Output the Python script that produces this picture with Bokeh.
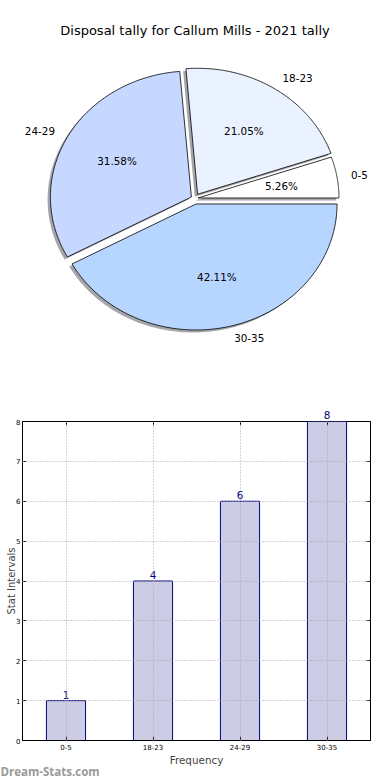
import numpy as np
from bokeh.plotting import figure
from bokeh.layouts import column
from bokeh.models import (ColumnDataSource, Range1d, FactorRange, LinearAxis, CategoricalAxis,
                          FixedTicker, LabelSet, Title)
from bokeh.core.properties import value
from bokeh.embed import file_html
from bokeh.resources import INLINE

# ---------------- data ----------------
title_text = "Disposal tally for Callum Mills - 2021 tally"
categories = ["0-5", "18-23", "24-29", "30-35"]
counts = [1, 4, 6, 8]
slice_colors = ["#FFFFFF", "#EAF1FF", "#C6D8FF", "#B6D6FF"]
y_ticks = [0, 1, 2, 3, 4, 5, 6, 7, 8]
x_label = "Frequency"
y_label = "Stat Intervals"
watermark = "Dream-Stats.com"

# ---------------- layout / style ----------------
W = 390
PIE_H = 390
BAR_H = 390
FONT = "DejaVu Sans"
B_LEFT, B_RIGHT, B_TOP, B_BOTTOM = 22, 20, 31, 40

cx, cy, rx, ry = 194.0, 198.0, 141.0, 126.0
explode = [0.025, 0.04, 0.025, 0.045]
shadow_dx, shadow_dy = -2.8, 2.5

# ---------------- pie ----------------
total = float(sum(counts))
fracs = np.array(counts, dtype=float) / total
bounds = np.concatenate([[0.0], np.cumsum(fracs)]) * 2 * np.pi

# the column aligns this frame with the bar chart's frame, so use page pixels over that span
pie = figure(width=W, height=PIE_H, x_range=Range1d(B_LEFT, W - B_RIGHT),
             y_range=Range1d(PIE_H, 0),
             x_axis_location=None, y_axis_location=None,
             output_backend="svg", toolbar_location=None, min_border=0,
             min_border_left=B_LEFT, min_border_right=B_RIGHT)
pie.grid.visible = False
pie.outline_line_color = None
pie.background_fill_color = "white"

pxs, pys, sxs, sys_ = [], [], [], []
pct_x, pct_y, pct_t = [], [], []
lab_x, lab_y, lab_t, lab_align = [], [], [], []
for i, cat in enumerate(categories):
    t1, t2 = bounds[i], bounds[i + 1]
    mid = 0.5 * (t1 + t2)
    ax = cx + explode[i] * rx * np.cos(mid)
    ay = cy - explode[i] * ry * np.sin(mid)
    t = np.linspace(t1, t2, 120)
    px = np.concatenate([[ax], ax + rx * np.cos(t)])
    py = np.concatenate([[ay], ay - ry * np.sin(t)])
    pxs.append(list(px)); pys.append(list(py))
    sxs.append(list(px + shadow_dx)); sys_.append(list(py + shadow_dy))
    pct_x.append(ax + 0.6 * rx * np.cos(mid))
    pct_y.append(ay - 0.6 * ry * np.sin(mid))
    pct_t.append("%.2f%%" % (fracs[i] * 100))
    lab_x.append(ax + 1.1 * rx * np.cos(mid))
    lab_y.append(ay - 1.1 * ry * np.sin(mid))
    lab_t.append(cat)
    lab_align.append("left" if np.cos(mid) > 0 else "right")

pie.patches(xs=sxs, ys=sys_, fill_color="#4a4d55", fill_alpha=0.5, line_color=None)
pie.patches(xs=pxs, ys=pys, fill_color=slice_colors, line_color="black", line_width=0.8)
pie.text(x=pct_x, y=pct_y, text=pct_t, text_align="center", text_baseline="middle",
         text_font=value(FONT), text_font_size="10.4px", text_color="black")
lsrc = ColumnDataSource(dict(x=lab_x, y=lab_y, t=lab_t, a=lab_align))
pie.text(x="x", y="y", text="t", text_align="a", text_baseline="middle", source=lsrc,
         text_font=value(FONT), text_font_size="10.4px", text_color="black")
pie.text(x=[194.5], y=[30], text=[title_text], text_align="center", text_baseline="middle",
         text_font=value(FONT), text_font_size="13px", text_color="black")

# ---------------- bar ----------------
y_max = y_ticks[-1]
bar = figure(width=W, height=BAR_H, x_range=FactorRange(*categories, range_padding=0),
             y_range=Range1d(y_ticks[0], y_max),
             output_backend="svg", toolbar_location=None,
             min_border_left=B_LEFT, min_border_right=B_RIGHT, min_border_top=B_TOP,
             min_border_bottom=B_BOTTOM)
bar.background_fill_color = "white"
bar.outline_line_color = "black"
bar.outline_line_alpha = 1.0
bar.outline_line_width = 1

inside = [str(c) if c < y_max else "" for c in counts]
bsrc = ColumnDataSource(dict(cat=categories, count=counts, lab=inside))
bar.vbar(x="cat", top="count", width=0.45, source=bsrc,
         fill_color="#CCCCE5", line_color="#000080", line_width=1)

yax = bar.yaxis[0]
yax.ticker = FixedTicker(ticks=y_ticks)
yax.major_tick_in = 4
yax.major_tick_out = 0
yax.minor_tick_in = 0
yax.minor_tick_out = 0
yax.major_label_standoff = 2
yax.major_label_text_font = FONT
yax.major_label_text_font_size = "7px"
yax.major_label_text_color = "black"
yax.axis_line_color = "black"
yax.axis_label = y_label
yax.axis_label_text_font = FONT
yax.axis_label_text_font_size = "10px"
yax.axis_label_text_font_style = "normal"
yax.axis_label_standoff = -4

xax = bar.xaxis[0]
xax.major_tick_in = 4
xax.major_tick_out = 0
xax.major_label_standoff = 3
xax.major_label_text_font = FONT
xax.major_label_text_font_size = "7px"
xax.major_label_text_color = "black"
xax.axis_label = x_label
xax.axis_label_text_font = FONT
xax.axis_label_text_font_size = "10.4px"
xax.axis_label_text_font_style = "normal"
xax.axis_label_standoff = 1
xax.axis_line_color = "black"

rax = LinearAxis(ticker=FixedTicker(ticks=y_ticks), major_tick_in=4, major_tick_out=0,
                 minor_tick_in=0, minor_tick_out=0, axis_line_color=None,
                 major_label_overrides={t: "" for t in y_ticks})
bar.add_layout(rax, "right")

tax = CategoricalAxis(major_tick_in=4, major_tick_out=0, axis_line_color=None,
                      major_label_standoff=0, major_label_text_font_size="0px",
                      major_label_text_color=None)
bar.add_layout(tax, "above")

# value labels of bars that reach the top of the frame sit above it
frame_w = W - B_LEFT - B_RIGHT
label_w = 0.636 * 10.4
for i, v in enumerate(counts):
    if v >= y_max:
        bar.add_layout(Title(text=str(v), align="left",
                             offset=frame_w * (i + 0.5) / len(categories) - label_w / 2,
                             standoff=6, text_font=FONT, text_font_style="normal",
                             text_font_size="10.4px", text_color="#000080"), "above")

bar.xgrid.grid_line_color = "#a8a8a8"
bar.xgrid.grid_line_dash = "1 2"
bar.xgrid.level = "overlay"
bar.ygrid.ticker = FixedTicker(ticks=y_ticks)
bar.ygrid.grid_line_color = "#a8a8a8"
bar.ygrid.grid_line_dash = "1 2"
bar.ygrid.level = "overlay"

bar.add_layout(LabelSet(x="cat", y="count", text="lab", source=bsrc, text_align="center",
                        text_baseline="bottom", y_offset=2, text_font=value(FONT),
                        text_font_size="10.4px", text_color="#000080"))

bar.add_layout(Title(text=watermark, align="left", offset=-B_LEFT, standoff=-14,
                     text_font="Open Sans", text_font_style="bold",
                     text_font_size="11.5px", text_color="#999999"), "below")

layout = column(pie, bar, spacing=0)
open("out.html", "w").write(file_html(layout, INLINE))
